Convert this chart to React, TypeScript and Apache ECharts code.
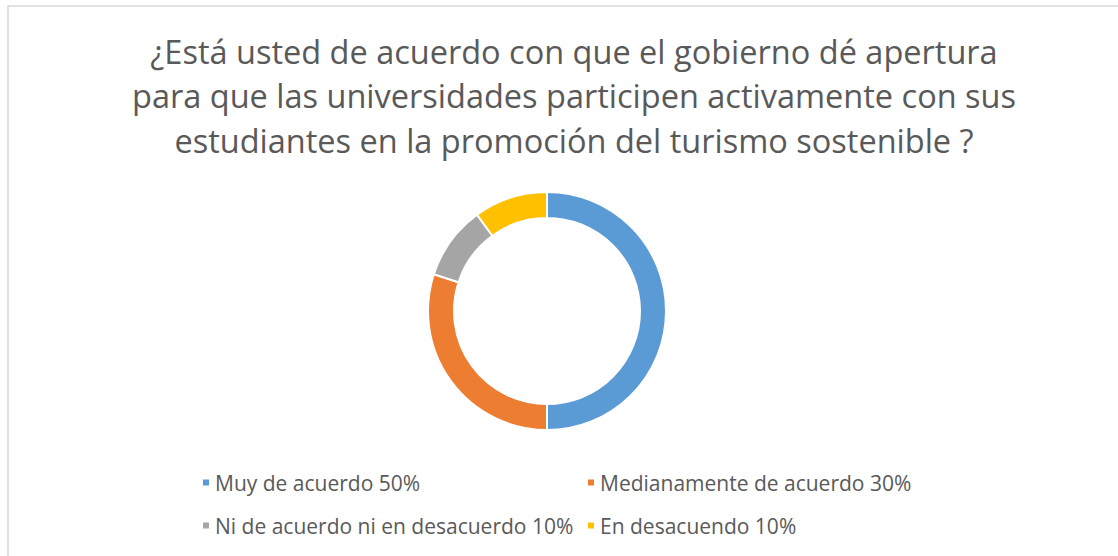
import React, { useEffect, useRef } from "react";
import * as echarts from "echarts";

const titleLines = [
  "¿Está usted de acuerdo con que el gobierno dé apertura",
  "para que las universidades participen activamente con sus",
  "estudiantes en la promoción del turismo sostenible ?",
];
const categories = [
  "Muy de acuerdo 50%",
  "Medianamente de acuerdo 30%",
  "Ni de acuerdo ni en desacuerdo 10%",
  "En desacuendo 10%",
];
const values = [50, 30, 10, 10];
const colors = ["#5b9bd5", "#ed7d31", "#a5a5a5", "#ffc000"];

const FONT = "'Open Sans', sans-serif";

export default function App() {
  const ref = useRef<HTMLDivElement>(null);
  useEffect(() => {
    if (!ref.current) return;
    const chart = echarts.init(ref.current, undefined, { renderer: "svg" });
    const legendText = { color: "#595959", fontSize: 21, fontFamily: FONT };
    chart.setOption({
      animation: false,
      backgroundColor: "#ffffff",
      title: {
        text: titleLines.join("\n"),
        left: 569,
        top: 24,
        textAlign: "center",
        textStyle: {
          color: "#595959",
          fontSize: 32.5,
          fontWeight: "normal",
          fontFamily: FONT,
          lineHeight: 44.5,
        },
      },
      graphic: [
        {
          type: "rect",
          shape: { x: 8, y: 6, width: 1200, height: 600 },
          style: { fill: "none", stroke: "#d9d9d9", lineWidth: 1.5 },
          silent: true,
        },
      ],
      legend: [
        {
          data: [categories[0], categories[2]],
          orient: "vertical",
          left: 196,
          top: 467,
          itemWidth: 8,
          itemHeight: 8,
          itemGap: 22,
          icon: "rect",
          textStyle: legendText,
          selectedMode: false,
        },
        {
          data: [categories[1], categories[3]],
          orient: "vertical",
          left: 581,
          top: 467,
          itemWidth: 8,
          itemHeight: 8,
          itemGap: 22,
          icon: "rect",
          textStyle: legendText,
          selectedMode: false,
        },
      ],
      series: [
        {
          type: "pie",
          center: [547, 311],
          radius: [93, 119],
          startAngle: 90,
          clockwise: true,
          label: { show: false },
          labelLine: { show: false },
          itemStyle: { borderColor: "#ffffff", borderWidth: 2 },
          emphasis: { disabled: true },
          data: categories.map((name, i) => ({
            name,
            value: values[i],
            itemStyle: { color: colors[i] },
          })),
        },
      ],
    });
    return () => chart.dispose();
  }, []);
  return (
    <div
      ref={ref}
      style={{ position: "fixed", left: 0, top: 0, width: 1118, height: 556 }}
    />
  );
}
